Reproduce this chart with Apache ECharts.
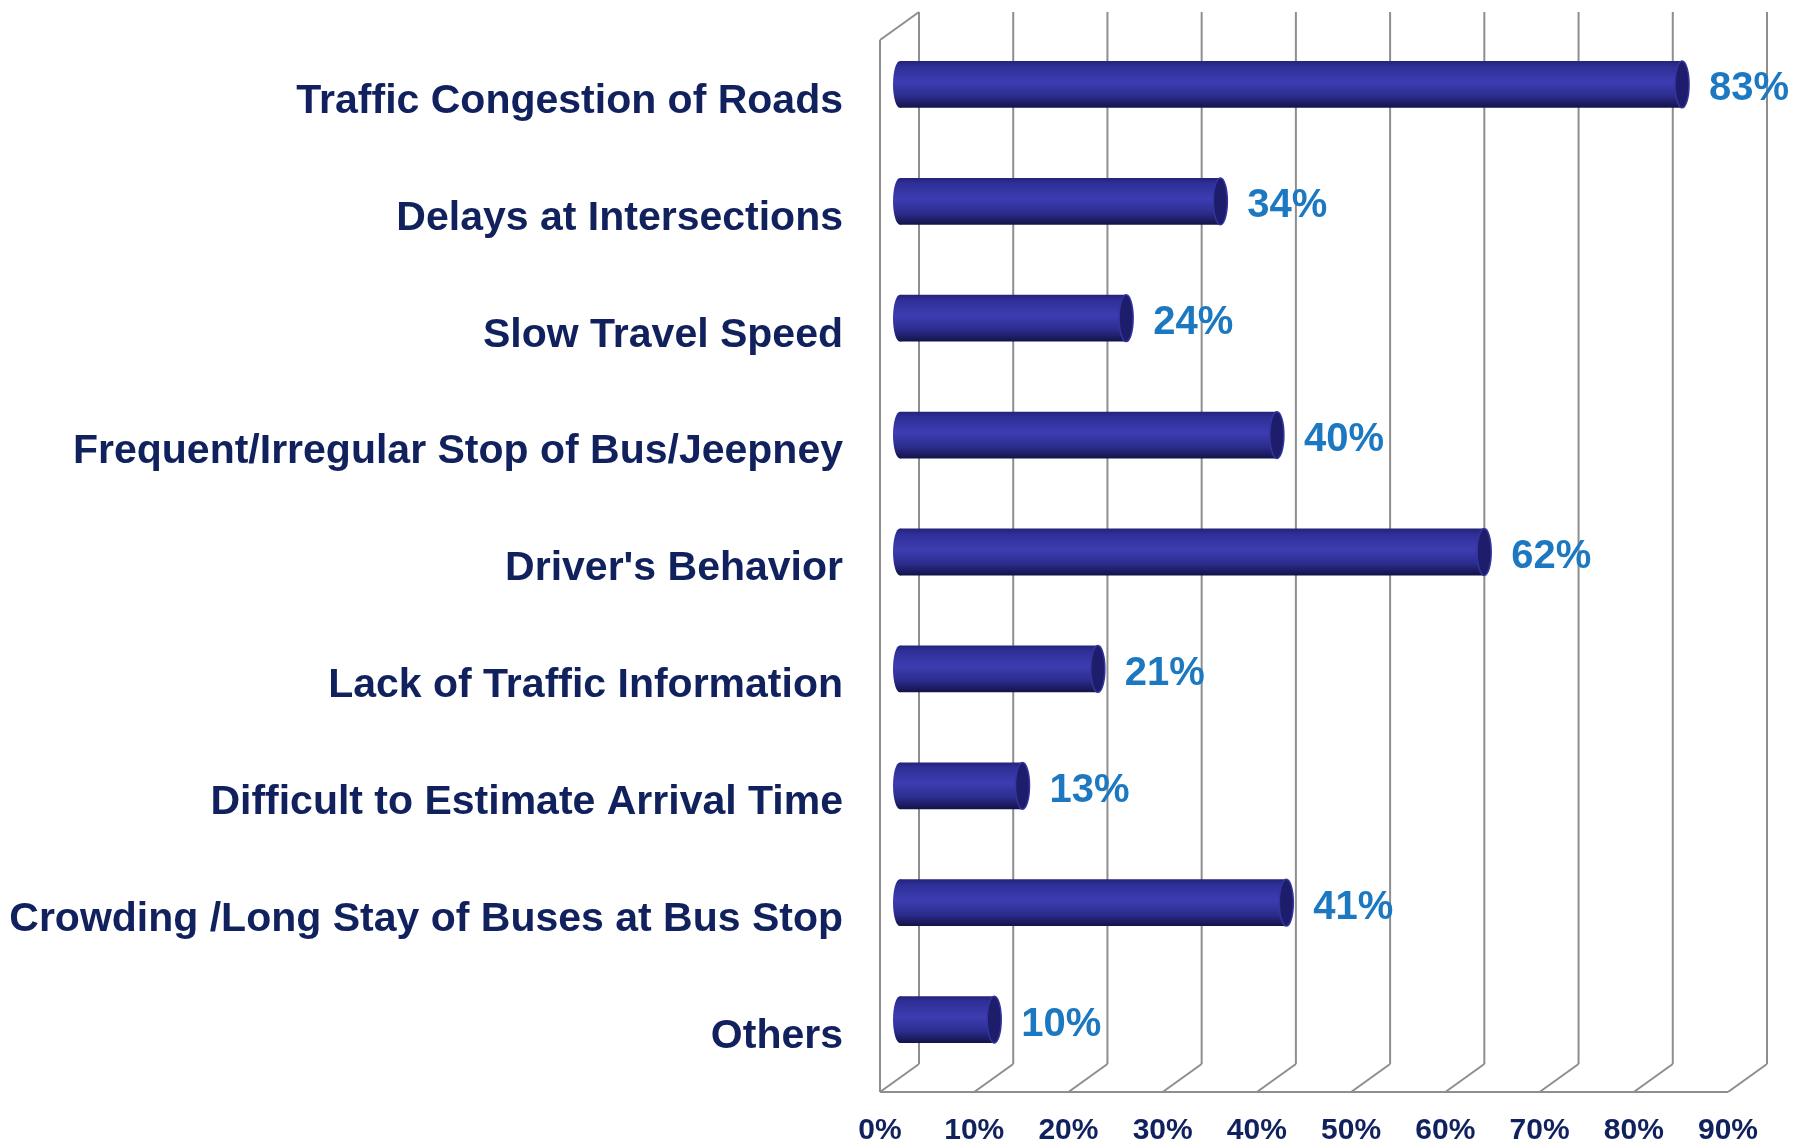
<!DOCTYPE html>
<html>
<head>
<meta charset="utf-8">
<script src="https://cdn.jsdelivr.net/npm/echarts@6/dist/echarts.min.js"></script>
<style>
  html, body { margin: 0; padding: 0; background: #fff; }
  #chart { width: 1810px; height: 1148px; }
</style>
</head>
<body>
<div id="chart"></div>
<script>
const categories = [
  "Traffic Congestion of Roads",
  "Delays at Intersections",
  "Slow Travel Speed",
  "Frequent/Irregular Stop of Bus/Jeepney",
  "Driver's Behavior",
  "Lack of Traffic Information",
  "Difficult to Estimate Arrival Time",
  "Crowding /Long Stay of Buses at Bus Stop",
  "Others"
];
const values = [83, 34, 24, 40, 62, 21, 13, 41, 10];
const ticks = [0, 10, 20, 30, 40, 50, 60, 70, 80, 90];

const FONT = "'Liberation Sans', Arial, sans-serif";
const NAVY = "#10215e";
const LABEL_BLUE = "#1c78c0";
const FRAME = "#8e8e8e";
// 3D depth offset of the back wall
const DX = 39, DY = -28;

const chart = echarts.init(document.getElementById("chart"));

function renderFrame(params, api) {
  const v = api.value(0);
  const fb = api.coord([v, 0]);
  const ft = api.coord([v, 1]);
  const bb = [fb[0] + DX, fb[1] + DY];
  const bt = [bb[0], ft[1] + DY];
  const style = { stroke: FRAME, lineWidth: 2 };
  const children = [
    { type: "line", shape: { x1: fb[0], y1: fb[1], x2: bb[0], y2: bb[1] }, style },
    { type: "line", shape: { x1: bb[0], y1: bb[1], x2: bt[0], y2: bt[1] }, style }
  ];
  if (v === ticks[0]) {
    const end = api.coord([ticks[ticks.length - 1], 0]);
    children.push(
      { type: "line", shape: { x1: fb[0], y1: fb[1], x2: ft[0], y2: ft[1] }, style },
      { type: "line", shape: { x1: ft[0], y1: ft[1], x2: bt[0], y2: bt[1] }, style },
      { type: "line", shape: { x1: fb[0], y1: fb[1], x2: end[0], y2: end[1] }, style }
    );
  }
  return { type: "group", children };
}

function renderBar(params, api) {
  const v = api.value(0);
  const idx = api.value(1);
  const s = api.coord([0, idx]);
  const e = api.coord([v, idx]);
  const h = api.size([0, 1])[1] * 0.4;
  const rx = 7;
  const y = s[1] - h / 2;
  const grad = new echarts.graphic.LinearGradient(0, 0, 0, 1, [
    { offset: 0, color: "#23237a" },
    { offset: 0.12, color: "#2f2f98" },
    { offset: 0.45, color: "#3d3db2" },
    { offset: 0.75, color: "#2c2c8e" },
    { offset: 1, color: "#131348" }
  ]);
  return {
    type: "group",
    children: [
      { type: "ellipse", shape: { cx: s[0], cy: s[1], rx: rx, ry: h / 2 }, style: { fill: grad } },
      { type: "rect", shape: { x: s[0], y: y, width: e[0] - s[0], height: h }, style: { fill: grad } },
      { type: "ellipse", shape: { cx: e[0], cy: e[1], rx: rx, ry: h / 2 },
        style: { fill: "#1d1d6c", stroke: "#34349e", lineWidth: 1.5 } },
      { type: "text", x: e[0] + rx + 20, y: e[1] + 5,
        style: { text: v + "%", fill: LABEL_BLUE, font: "bold 40px " + FONT,
                 align: "left", verticalAlign: "middle" } }
    ]
  };
}

chart.setOption({
  backgroundColor: "#ffffff",
  animation: false,
  grid: [
    { left: 880, width: 848, top: 40, height: 1052 },
    { left: 900, width: 848, top: 26, height: 1052 }
  ],
  xAxis: [
    {
      gridIndex: 0, type: "value", min: 0, max: 90, interval: 10,
      axisLine: { show: false }, axisTick: { show: false }, splitLine: { show: false },
      axisLabel: { formatter: "{value}%", color: NAVY, fontFamily: FONT, fontWeight: "bold",
                   fontSize: 30, margin: 24 }
    },
    {
      gridIndex: 1, type: "value", min: 0, max: 90, interval: 10, show: false,
      splitLine: { show: false }
    }
  ],
  yAxis: [
    { gridIndex: 0, type: "value", min: 0, max: 1, show: false, splitLine: { show: false } },
    {
      gridIndex: 1, type: "category", data: categories, inverse: true,
      axisLine: { show: false }, axisTick: { show: false }, splitLine: { show: false },
      axisLabel: { color: NAVY, fontFamily: FONT, fontWeight: "bold", fontSize: 41,
                   margin: 57, verticalAlign: "top", lineHeight: 34 }
    }
  ],
  series: [
    {
      type: "custom", name: "frame", xAxisIndex: 0, yAxisIndex: 0,
      data: ticks.map(t => [t]), encode: { x: 0 }, renderItem: renderFrame, silent: true
    },
    {
      type: "custom", name: "share", xAxisIndex: 1, yAxisIndex: 1,
      data: values.map((v, i) => [v, i]), encode: { x: 0, y: 1 }, renderItem: renderBar
    }
  ]
});
</script>
</body>
</html>
